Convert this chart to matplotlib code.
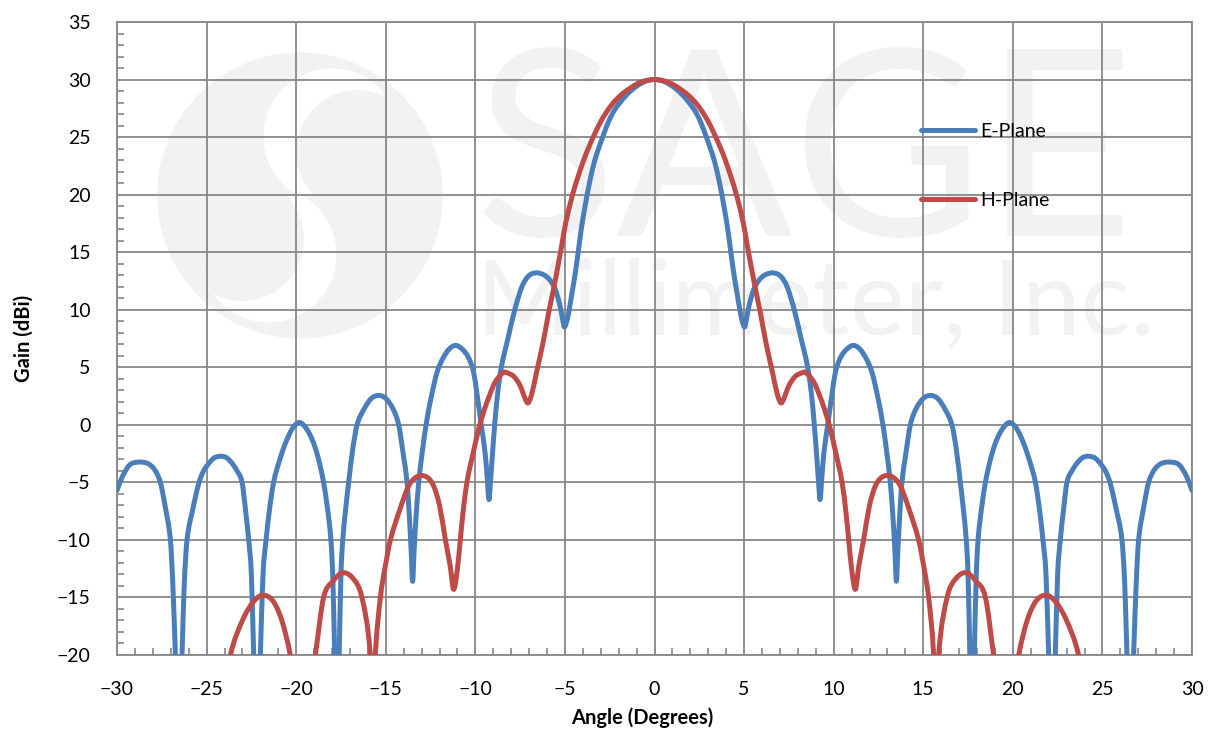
import matplotlib
matplotlib.use('Agg')
import matplotlib.pyplot as plt
from matplotlib.patches import Circle, Rectangle, PathPatch
from matplotlib.path import Path
from matplotlib.lines import Line2D
from matplotlib.ticker import MultipleLocator

plt.rcParams['font.family'] = ['Lato', 'DejaVu Sans']

# E-plane gain (dBi) vs angle (deg)
e_angle = [-30.0, -29.7, -29.3, -28.88, -28.3, -27.9, -27.58, -27.3, -27.02, -26.88,
           -26.74, -26.55, -26.37, -26.25, -26.09, -25.75, -25.44, -25.2, -24.95, -24.6,
           -24.23, -23.9, -23.6, -23.3, -23.02, -22.82, -22.65, -22.5, -22.37, -22.18,
           -22.0, -21.85, -21.68, -21.5, -21.26, -20.95, -20.6, -20.2, -19.8, -19.4,
           -19.05, -18.75, -18.47, -18.25, -18.06, -17.95, -17.85, -17.72, -17.6, -17.5,
           -17.4, -17.25, -17.07, -16.85, -16.6, -16.2, -15.8, -15.4, -15.0, -14.6,
           -14.28, -14.0, -13.81, -13.7, -13.58, -13.5, -13.42, -13.3, -13.16, -12.98,
           -12.75, -12.45, -12.13, -11.8, -11.45, -11.1, -10.75, -10.4, -10.1, -9.9,
           -9.67, -9.45, -9.32, -9.24, -9.18, -9.08, -8.92, -8.75, -8.55, -8.15,
           -7.8, -7.4, -7.05, -6.65, -6.2, -5.85, -5.55, -5.3, -5.12, -5.03,
           -4.88, -4.74, -4.6, -4.43, -4.26, -4.07, -3.92, -3.76, -3.55, -3.33,
           -3.1, -2.87, -2.55, -2.19, -1.54, -1.0, -0.5,
           0.0,
           0.5, 1.0, 1.54, 2.19, 2.55, 2.87, 3.1, 3.33, 3.55,
           3.76, 3.92, 4.07, 4.26, 4.43, 4.6, 4.74, 4.88, 5.03, 5.12,
           5.3, 5.55, 5.85, 6.2, 6.65, 7.05, 7.4, 7.8, 8.15, 8.55,
           8.75, 8.92, 9.08, 9.18, 9.24, 9.32, 9.45, 9.67, 9.9, 10.1,
           10.4, 10.75, 11.1, 11.45, 11.8, 12.13, 12.45, 12.75, 12.98, 13.16,
           13.3, 13.42, 13.5, 13.58, 13.7, 13.81, 14.0, 14.28, 14.6, 15.0,
           15.4, 15.8, 16.2, 16.6, 16.85, 17.07, 17.25, 17.4, 17.5, 17.6,
           17.72, 17.85, 17.95, 18.06, 18.25, 18.47, 18.75, 19.05, 19.4, 19.8,
           20.2, 20.6, 20.95, 21.26, 21.5, 21.68, 21.85, 22.0, 22.18, 22.37,
           22.5, 22.65, 22.82, 23.02, 23.3, 23.6, 23.9, 24.23, 24.6, 24.95,
           25.2, 25.44, 25.75, 26.09, 26.25, 26.37, 26.55, 26.74, 26.88, 27.02,
           27.3, 27.58, 27.9, 28.3, 28.88, 29.3, 29.7, 30.0]
e_gain = [-5.7, -4.5, -3.5, -3.25, -3.35, -3.9, -5.0, -7.2, -10.0, -14.0,
          -20.0, -28.0, -20.0, -14.0, -10.0, -7.2, -5.1, -4.1, -3.5, -2.9,
          -2.73, -2.85, -3.3, -4.0, -5.0, -7.5, -10.0, -13.0, -20.0, -28.0,
          -20.0, -13.0, -10.0, -7.5, -5.0, -3.2, -1.6, -0.3, 0.2, -0.4,
          -1.5, -3.0, -5.0, -7.3, -10.0, -13.5, -20.0, -28.0, -20.0, -13.0,
          -10.0, -7.5, -5.0, -2.2, 0.0, 1.4, 2.3, 2.55, 2.3, 1.4,
          0.0, -2.8, -5.0, -7.5, -11.0, -13.6, -11.0, -7.8, -5.0, -2.6,
          0.0, 2.5, 4.6, 5.8, 6.6, 6.9, 6.6, 5.9, 4.6, 2.6,
          0.0, -2.5, -5.0, -6.5, -5.5, -3.3, 0.0, 2.8, 5.0, 7.7,
          10.0, 12.0, 12.9, 13.2, 13.05, 12.6, 11.8, 10.5, 9.1, 8.5,
          9.1, 10.2, 11.5, 13.1, 15.0, 17.2, 18.6, 20.0, 21.6, 23.0,
          24.1, 25.1, 26.4, 27.45, 28.7, 29.42, 29.85,
          30.0,
          29.85, 29.42, 28.7, 27.45, 26.4, 25.1, 24.1, 23.0, 21.6,
          20.0, 18.6, 17.2, 15.0, 13.1, 11.5, 10.2, 9.1, 8.5, 9.1,
          10.5, 11.8, 12.6, 13.05, 13.2, 12.9, 12.0, 10.0, 7.7, 5.0,
          2.8, 0.0, -3.3, -5.5, -6.5, -5.0, -2.5, 0.0, 2.6, 4.6,
          5.9, 6.6, 6.9, 6.6, 5.8, 4.6, 2.5, 0.0, -2.6, -5.0,
          -7.8, -11.0, -13.6, -11.0, -7.5, -5.0, -2.8, 0.0, 1.4, 2.3,
          2.55, 2.3, 1.4, 0.0, -2.2, -5.0, -7.5, -10.0, -13.0, -20.0,
          -28.0, -20.0, -13.5, -10.0, -7.3, -5.0, -3.0, -1.5, -0.4, 0.2,
          -0.3, -1.6, -3.2, -5.0, -7.5, -10.0, -13.0, -20.0, -28.0, -20.0,
          -13.0, -10.0, -7.5, -5.0, -4.0, -3.3, -2.85, -2.73, -2.9, -3.5,
          -4.1, -5.1, -7.2, -10.0, -14.0, -20.0, -28.0, -20.0, -14.0, -10.0,
          -7.2, -5.0, -3.9, -3.35, -3.25, -3.5, -4.5, -5.7]

# H-plane gain (dBi) vs angle (deg)
h_angle = [-24.2, -23.67, -23.0, -22.4, -21.87, -21.3, -20.8, -20.33, -19.6, -18.93,
           -18.47, -17.95, -17.39, -16.8, -16.33, -15.86, -15.72, -15.58, -15.3, -15.05,
           -14.74, -14.2, -13.72, -13.35, -13.01, -12.65, -12.33, -12.0, -11.67, -11.4,
           -11.21, -11.0, -10.84, -10.7, -10.47, -10.1, -9.8, -9.5, -9.2, -8.9,
           -8.43, -8.2, -7.85, -7.5, -7.2, -7.07, -6.95, -6.8, -6.55, -6.2,
           -5.9, -5.61, -5.4, -5.19, -4.96, -4.59, -4.3, -3.94, -3.7, -3.39,
           -3.0, -2.56, -2.2, -1.72, -1.0, -0.5,
           0.0,
           0.5, 1.0, 1.72, 2.2, 2.56, 3.0, 3.39, 3.7, 3.94,
           4.3, 4.59, 4.96, 5.19, 5.4, 5.61, 5.9, 6.2, 6.55, 6.8,
           6.95, 7.07, 7.2, 7.5, 7.85, 8.2, 8.43, 8.9, 9.2, 9.5,
           9.8, 10.1, 10.47, 10.7, 10.84, 11.0, 11.21, 11.4, 11.67, 12.0,
           12.33, 12.65, 13.01, 13.35, 13.72, 14.2, 14.74, 15.05, 15.3, 15.58,
           15.72, 15.86, 16.33, 16.8, 17.39, 17.95, 18.47, 18.93, 19.6, 20.33,
           20.8, 21.3, 21.87, 22.4, 23.0, 23.67, 24.2]
h_gain = [-25.0, -20.0, -17.0, -15.4, -14.8, -15.3, -17.0, -20.0, -27.0, -20.0,
          -15.0, -13.6, -12.85, -13.4, -15.0, -20.0, -27.0, -20.0, -15.0, -12.5,
          -10.0, -7.3, -5.3, -4.6, -4.4, -4.6, -5.3, -7.0, -10.0, -12.3,
          -14.3, -12.5, -10.0, -7.8, -5.0, -2.3, -0.3, 1.3, 2.6, 3.7,
          4.55, 4.5, 4.2, 3.4, 2.2, 1.9, 2.2, 3.0, 4.8, 7.3,
          9.8, 12.0, 13.7, 15.5, 17.5, 19.9, 21.4, 23.05, 24.0, 25.1,
          26.35, 27.45, 28.15, 28.85, 29.6, 29.9,
          30.0,
          29.9, 29.6, 28.85, 28.15, 27.45, 26.35, 25.1, 24.0, 23.05,
          21.4, 19.9, 17.5, 15.5, 13.7, 12.0, 9.8, 7.3, 4.8, 3.0,
          2.2, 1.9, 2.2, 3.4, 4.2, 4.5, 4.55, 3.7, 2.6, 1.3,
          -0.3, -2.3, -5.0, -7.8, -10.0, -12.5, -14.3, -12.3, -10.0, -7.0,
          -5.3, -4.6, -4.4, -4.6, -5.3, -7.3, -10.0, -12.5, -15.0, -20.0,
          -27.0, -20.0, -15.0, -13.4, -12.85, -13.6, -15.0, -20.0, -27.0, -20.0,
          -17.0, -15.3, -14.8, -15.4, -17.0, -20.0, -25.0]

x_ticks = list(range(-30, 31, 5))
y_ticks = list(range(-20, 36, 5))

blue = '#4a7ebb'
red = '#be4b48'
grid_col = '#878787'
wm = '#f2f2f2'


def smooth_path(xs, ys):
    # smoothed line like Excel's: cubic Bezier pieces through every data point
    n = len(xs)
    m = []
    for i in range(n):
        a = max(i - 1, 0)
        b = min(i + 1, n - 1)
        m.append((ys[b] - ys[a]) / (xs[b] - xs[a]))
    verts = [(xs[0], ys[0])]
    codes = [Path.MOVETO]
    for i in range(n - 1):
        h = xs[i + 1] - xs[i]
        verts += [(xs[i] + h / 3, ys[i] + m[i] * h / 3),
                  (xs[i + 1] - h / 3, ys[i + 1] - m[i + 1] * h / 3),
                  (xs[i + 1], ys[i + 1])]
        codes += [Path.CURVE4] * 3
    return Path(verts, codes)


fig = plt.figure(figsize=(12.13, 7.33), dpi=100)

# watermark layer, in pixel coordinates
bg = fig.add_axes([0, 0, 1, 1], zorder=0)
bg.set_xlim(0, 1213)
bg.set_ylim(733, 0)
bg.axis('off')
bg.add_patch(Circle((300, 195.5), 143, color=wm, lw=0))
for sgn in (1, -1):
    ca = (300 + sgn * 31.5, 195.5 - sgn * 59)
    cb = (300 + sgn * 58, 195.5 - sgn * 43.5)
    half = Rectangle((0, 0 if sgn == 1 else 195.5), 1213, 195.5 if sgn == 1 else 540,
                     transform=bg.transData)
    a = Circle(ca, 68, color='white', lw=0)
    bg.add_patch(a)
    a.set_clip_path(half)
    b = Circle(cb, 62, color=wm, lw=0)
    bg.add_patch(b)
    b.set_clip_path(a)
bg.text(474, 236, 'SAGE', fontsize=188, color=wm, ha='left', va='baseline')
bg.text(476, 335, 'Millimeter, Inc.', fontsize=75, color=wm, ha='left',
        va='baseline')

ax = fig.add_axes([117 / 1213, 78 / 733, 1075 / 1213, 633 / 733], zorder=1)
ax.patch.set_alpha(0)

for xs, ys, col, z in ((e_angle, e_gain, blue, 3), (h_angle, h_gain, red, 4)):
    ax.add_patch(PathPatch(smooth_path(xs, ys), fill=False, edgecolor=col, lw=3.6,
                           joinstyle='round', capstyle='round', zorder=z))

ax.set_xlim(-30, 30)
ax.set_ylim(-20, 35)
ax.set_xticks(x_ticks)
ax.set_yticks(y_ticks)
ax.xaxis.set_minor_locator(MultipleLocator(1))
ax.yaxis.set_minor_locator(MultipleLocator(1))
ax.grid(True, which='major', color=grid_col, lw=1.3)
ax.set_axisbelow(True)
for s in ax.spines.values():
    s.set_color(grid_col)
    s.set_linewidth(1.3)
ax.tick_params(which='major', length=0, labelsize=14, pad=19)
ax.tick_params(axis='x', which='minor', direction='in', length=5, width=1.2,
               color=grid_col, bottom=True, top=False)
ax.tick_params(axis='y', which='minor', direction='in', length=5, width=1.2,
               color=grid_col, left=True, right=False)

ax.set_xlabel('Angle (Degrees)', fontsize=14.5, fontweight='bold', va='center')
ax.xaxis.set_label_coords((642 - 117) / 1075, (655 - 718) / 633)
ax.set_ylabel('Gain (dBi)', fontsize=14.5, fontweight='bold', va='center')
ax.yaxis.set_label_coords((24 - 117) / 1075, (655 - 338) / 633)

handles = [Line2D([0], [0], color=blue, lw=3.6, solid_capstyle='round'),
           Line2D([0], [0], color=red, lw=3.6, solid_capstyle='round')]
ax.legend(handles, ['E-Plane', 'H-Plane'], loc='center left',
          bbox_to_anchor=((921 - 117) / 1075, (655 - 166) / 633),
          frameon=False, fontsize=14, handlelength=2.78, handletextpad=0.25,
          labelspacing=2.66, borderpad=0, borderaxespad=0)

fig.savefig('out.png', dpi=100)
